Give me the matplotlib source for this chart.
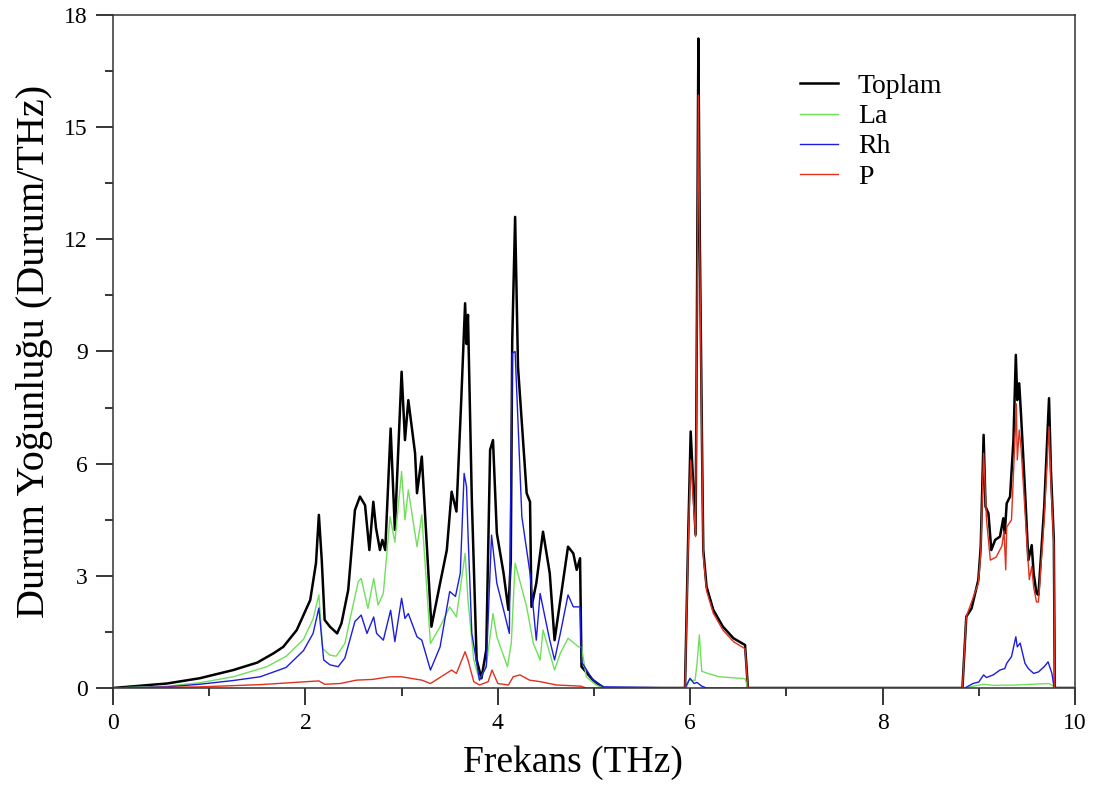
import numpy as np
import matplotlib
matplotlib.use("Agg")
import matplotlib.pyplot as plt
from matplotlib.ticker import MultipleLocator

# Toplam (total phonon DOS)
freq_total = [0.0, 0.56, 0.90, 1.25, 1.50, 1.67, 1.77, 1.91, 2.05, 2.11, 2.14, 2.17, 2.20, 2.255,
              2.33, 2.375, 2.445, 2.515, 2.567, 2.62, 2.665, 2.706, 2.734, 2.775, 2.80, 2.83, 2.886,
              2.93, 3.00, 3.035, 3.07, 3.14, 3.16, 3.21, 3.31, 3.40, 3.47, 3.52, 3.57, 3.62, 3.66,
              3.675, 3.69, 3.73, 3.78, 3.83, 3.88, 3.92, 3.95, 3.99, 4.06, 4.11, 4.135, 4.15, 4.18,
              4.21, 4.30, 4.335, 4.35, 4.40, 4.47, 4.54, 4.59, 4.65, 4.73, 4.785, 4.82, 4.855, 4.87,
              4.99, 5.10, 5.946, 5.98, 6.005, 6.056, 6.07, 6.085, 6.10, 6.125, 6.136, 6.17, 6.24,
              6.34, 6.45, 6.57, 6.60, 8.83, 8.87, 8.925, 8.995, 9.02, 9.05, 9.07, 9.10, 9.13, 9.17,
              9.22, 9.255, 9.27, 9.29, 9.325, 9.36, 9.385, 9.40, 9.42, 9.44, 9.48, 9.515, 9.55, 9.57,
              9.60, 9.62, 9.68, 9.73, 9.75, 9.78, 9.79, 10.0]
dos_total = [0.0, 0.12, 0.26, 0.48, 0.68, 0.93, 1.10, 1.55, 2.35, 3.34, 4.63, 3.42, 1.82, 1.64,
             1.46, 1.73, 2.62, 4.76, 5.12, 4.89, 3.69, 4.98, 4.28, 3.69, 3.96, 3.69, 6.94,
             4.23, 8.46, 6.63, 7.70, 6.28, 5.21, 6.19, 1.64, 2.80, 3.69, 5.25, 4.72, 7.70, 10.29,
             9.20, 9.98, 5.03, 0.75, 0.26, 1.02, 6.37, 6.63, 4.14, 3.07, 2.09, 3.40, 9.30, 12.60,
             8.59, 5.21, 4.98, 2.17, 2.80, 4.18, 3.07, 1.28, 2.35, 3.78, 3.60, 3.16, 3.47, 0.57,
             0.21, 0.0, 0.0, 4.14, 6.86, 4.10, 10.0, 17.37, 12.0, 6.0, 3.69, 2.71, 2.09,
             1.64, 1.33, 1.15, 0.0, 0.0, 1.91, 2.13, 2.89, 3.78, 6.77, 4.85, 4.67, 3.69, 3.96,
             4.05, 4.54, 4.14, 4.94, 5.12, 6.63, 8.91, 7.70, 8.15, 7.26, 5.30, 3.42, 3.82, 3.07,
             2.53, 2.49, 4.85, 7.75, 5.80, 3.96, 0.0, 0.0]

# La
freq_la = [0.0, 0.56, 0.90, 1.25, 1.60, 1.80, 1.98, 2.08, 2.14, 2.18, 2.255, 2.32, 2.41, 2.50,
           2.55, 2.58, 2.65, 2.71, 2.755, 2.81, 2.88, 2.93, 3.00, 3.035, 3.07, 3.16, 3.21, 3.30,
           3.40, 3.50, 3.57, 3.66, 3.69, 3.75, 3.81, 3.88, 3.95, 3.99, 4.10, 4.14, 4.18, 4.30,
           4.37, 4.44, 4.47, 4.54, 4.59, 4.65, 4.73, 4.84, 4.87, 4.92, 5.02, 5.10, 5.96, 5.99,
           6.05, 6.07, 6.095, 6.12, 6.17, 6.30, 6.57, 6.60, 8.85, 9.05, 9.15, 9.38, 9.73, 9.78,
           9.79, 10.0]
dos_la = [0.0, 0.05, 0.14, 0.30, 0.57, 0.85, 1.30, 1.85, 2.49, 1.05, 0.88, 0.85, 1.19, 2.27,
          2.85, 2.93, 2.13, 2.93, 2.22, 2.53, 4.58, 3.90, 5.79, 4.50, 5.30, 3.78, 4.63, 1.19,
          1.64, 2.17, 1.90, 3.60, 2.35, 0.75, 0.21, 0.57, 1.99, 1.37, 0.57, 1.19, 3.34, 2.17,
          1.19, 0.75, 1.55, 0.93, 0.48, 0.93, 1.33, 1.10, 1.10, 0.30, 0.08, 0.0, 0.0, 0.21,
          0.20, 0.62, 1.42, 0.45, 0.40, 0.30, 0.25, 0.0, 0.0, 0.10, 0.07, 0.08, 0.12, 0.04,
          0.0, 0.0]

# Rh
freq_rh = [0.0, 0.56, 0.90, 1.25, 1.53, 1.80, 1.98, 2.08, 2.14, 2.19, 2.255, 2.34, 2.41, 2.515,
           2.58, 2.64, 2.71, 2.74, 2.81, 2.886, 2.93, 3.00, 3.035, 3.07, 3.16, 3.21, 3.30, 3.40,
           3.50, 3.56, 3.61, 3.65, 3.675, 3.69, 3.73, 3.81, 3.88, 3.935, 3.99, 4.06, 4.12, 4.15,
           4.18, 4.25, 4.335, 4.40, 4.44, 4.49, 4.54, 4.59, 4.65, 4.73, 4.785, 4.855, 4.87, 4.99,
           5.10, 5.946, 5.998, 6.04, 6.07, 6.12, 6.17, 8.855, 8.94, 9.00, 9.05, 9.08, 9.15, 9.22,
           9.27, 9.29, 9.34, 9.385, 9.40, 9.43, 9.48, 9.515, 9.57, 9.62, 9.68, 9.72, 9.76, 9.78,
           9.79, 10.0]
dos_rh = [0.0, 0.03, 0.10, 0.20, 0.30, 0.55, 1.00, 1.46, 2.14, 0.75, 0.62, 0.57, 0.80, 1.78,
          1.95, 1.46, 1.90, 1.46, 1.28, 2.08, 1.24, 2.40, 1.86, 1.99, 1.37, 1.28, 0.48, 1.10,
          2.58, 2.45, 3.07, 5.74, 5.38, 4.14, 1.46, 0.21, 0.57, 4.09, 2.80, 2.09, 1.46, 8.95,
          9.00, 4.58, 3.07, 1.28, 2.53, 1.90, 1.28, 0.75, 1.46, 2.49, 2.17, 2.17, 0.70, 0.21,
          0.03, 0.0, 0.26, 0.12, 0.15, 0.05, 0.0, 0.0, 0.12, 0.16, 0.35, 0.28, 0.35, 0.48,
          0.52, 0.66, 0.84, 1.37, 1.10, 1.20, 0.66, 0.52, 0.39, 0.43, 0.57, 0.70, 0.39, 0.05,
          0.0, 0.0]

# P
freq_p = [0.0, 0.90, 1.53, 2.14, 2.20, 2.36, 2.53, 2.70, 2.88, 3.00, 3.21, 3.30, 3.52, 3.57,
          3.66, 3.69, 3.75, 3.81, 3.90, 3.94, 4.00, 4.11, 4.16, 4.23, 4.33, 4.44, 4.61, 4.86,
          4.92, 5.946, 5.98, 6.005, 6.056, 6.07, 6.085, 6.10, 6.125, 6.136, 6.17, 6.24, 6.34,
          6.45, 6.57, 6.60, 8.83, 8.87, 8.995, 9.02, 9.05, 9.08, 9.12, 9.18, 9.24, 9.262, 9.28,
          9.29, 9.34, 9.38, 9.39, 9.40, 9.42, 9.44, 9.50, 9.525, 9.55, 9.57, 9.60, 9.62, 9.68,
          9.73, 9.75, 9.78, 9.79, 10.0]
dos_p = [0.0, 0.03, 0.09, 0.19, 0.10, 0.12, 0.21, 0.23, 0.30, 0.30, 0.21, 0.12, 0.48, 0.39,
         0.97, 0.75, 0.17, 0.08, 0.17, 0.48, 0.12, 0.08, 0.30, 0.35, 0.21, 0.17, 0.08, 0.05,
         0.0, 0.0, 3.90, 6.10, 4.05, 9.50, 15.86, 11.5, 5.80, 3.55, 2.60, 2.00, 1.55,
         1.24, 1.05, 0.0, 0.0, 1.91, 2.80, 3.60, 6.28, 4.50, 3.42, 3.50, 3.80, 4.20, 3.16,
         4.30, 4.50, 6.90, 7.60, 6.10, 6.90, 6.40, 3.90, 2.90, 3.25, 2.70, 2.30, 2.30, 4.50,
         6.99, 5.50, 3.80, 0.0, 0.0]

plt.rcParams["font.family"] = "Liberation Serif"

fig = plt.figure(figsize=(10.93, 7.87), dpi=100)
ax = fig.add_axes([113 / 1093, 1 - 688 / 787, 962 / 1093, 673 / 787])

ax.plot(freq_total, dos_total, color="black", linewidth=1.8, label="Toplam")
ax.plot(freq_la, dos_la, color="#6fe05a", linewidth=1.0, label="La")
ax.plot(freq_rh, dos_rh, color="#1c1ce0", linewidth=1.0, label="Rh")
ax.plot(freq_p, dos_p, color="#e0301e", linewidth=1.0, label="P")

ax.set_xlim(0, 10)
ax.set_ylim(0, 18)
ax.xaxis.set_major_locator(MultipleLocator(2))
ax.xaxis.set_minor_locator(MultipleLocator(1))
ax.yaxis.set_major_locator(MultipleLocator(3))
ax.yaxis.set_minor_locator(MultipleLocator(1.5))
ax.tick_params(which="major", direction="out", length=12, width=1.1, labelsize=17, pad=6)
ax.tick_params(which="minor", direction="out", length=6, width=1.1)
for s in ax.spines.values():
    s.set_linewidth(1.1)
    s.set_color("#333333")

ax.set_xlabel("Frekans (THz)", fontsize=27, labelpad=10)
ax.xaxis.set_label_coords(0.478, -0.085, transform=ax.transAxes)
ax.set_ylabel("Durum Yoğunluğu (Durum/THz)", fontsize=29, labelpad=8)

ax.legend(loc="upper left", bbox_to_anchor=(0.688, 0.95), frameon=False, fontsize=20,
          handlelength=1.37, handletextpad=0.72, labelspacing=0.17)

plt.savefig("out.png", dpi=100)
